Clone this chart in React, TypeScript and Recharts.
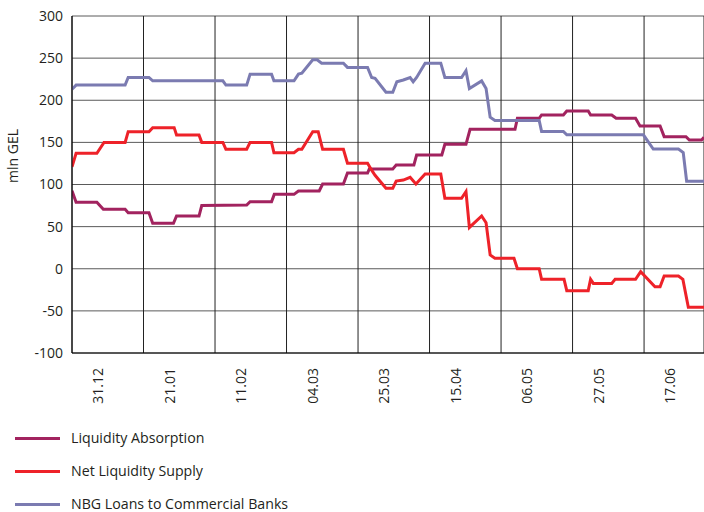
import { LineChart, Line, XAxis, YAxis, CartesianGrid } from 'recharts';

// day offsets from 31.12, values in mln GEL
const absorption: [number, number][] = [
  [0, 92.6], [1.2, 79], [7.3, 79], [9.2, 70.5], [15.6, 70.5], [16.5, 66.5], [22.6, 66.5],
  [23.7, 54], [29.8, 54], [30.7, 62.6], [37.3, 62.6], [38.1, 75], [51.3, 75.6], [52.3, 79.6],
  [58.6, 79.6], [59.4, 88.3], [65.2, 88.3], [66.5, 92.3], [72.6, 92.3], [73.6, 100.6],
  [79.7, 100.6], [80.9, 113.6], [86.8, 113.6], [87.3, 118.4], [94.2, 118.4], [95.2, 123],
  [100.4, 123], [101.2, 135], [108.6, 135], [109.5, 147.7], [115.7, 147.7], [116.9, 165.5],
  [130.1, 165.5], [130.8, 178.6], [137.2, 178.6], [137.9, 182.5], [144.3, 182.5],
  [145.3, 187.3], [151.6, 187.3], [152.3, 182.5], [158.5, 182.5], [159.8, 178.6],
  [165.5, 178.6], [166.8, 169.5], [172.7, 169.5], [173.9, 156.8], [180.3, 156.8],
  [181.3, 152.8], [184.9, 152.8], [185.6, 156],
];

const netSupply: [number, number][] = [
  [0, 121], [1.2, 137], [7.3, 137], [9.4, 150], [15.6, 150], [16.5, 162.7], [22.6, 162.7],
  [23.7, 167.5], [30, 167.5], [30.7, 158.8], [37.3, 158.8], [38.1, 150], [44.3, 150],
  [45.2, 141.8], [51.3, 141.8], [52.3, 150], [58.6, 150], [59.3, 137.8], [65.2, 137.8],
  [66.5, 141.8], [67.5, 141.8], [70.7, 162.7], [72.3, 162.7], [73.6, 141.8], [79.7, 141.8],
  [80.9, 125.2], [86.8, 125.2], [88, 117], [89, 111], [92.2, 95.5], [94.2, 95.5], [95.2, 104],
  [97.3, 105.3], [99.3, 108.5], [101, 100.6], [103.7, 112.5], [108.3, 112.5], [109.5, 83.6],
  [114.4, 83.6], [115.7, 91.5], [116.7, 49], [120.3, 62.6], [121.6, 54.6], [122.8, 16.3],
  [124.2, 12.4], [129.8, 12.4], [130.8, 0], [137.2, 0], [137.9, -12.6], [144.5, -12.6],
  [145.3, -26], [151.6, -26], [152.3, -12.6], [153.1, -17.4], [158.5, -17.4], [159.5, -12.6],
  [165.5, -12.6], [167, -3.5], [171.2, -21.4], [172.7, -21.4], [173.9, -8.7], [178.1, -8.7],
  [179.4, -12.6], [181, -45.8], [185.6, -45.8],
];

const nbgLoans: [number, number][] = [
  [0, 213], [1.2, 218], [15.6, 218], [16.5, 227], [22.6, 227], [23.7, 223], [44.3, 223],
  [45.2, 218], [51.3, 218], [52.3, 231], [58.6, 231], [59.3, 223], [65.2, 223], [66.5, 231],
  [67.5, 232], [70.7, 248], [72, 248], [73.3, 244], [79.7, 244], [80.9, 239], [86.8, 239],
  [88, 227], [89, 226], [92.2, 209.5], [94.2, 209.5], [95.4, 222], [97.3, 224], [99.3, 227],
  [100.2, 222], [101.2, 227], [103.7, 244], [108.3, 244], [109.5, 227], [114.4, 227],
  [115.7, 235], [116.7, 214], [120.3, 223], [121.6, 214], [122.8, 180], [124.2, 176],
  [137.2, 176], [137.9, 163], [144.3, 163], [145.3, 159], [167.8, 159], [170.7, 142],
  [178.1, 142], [179.5, 138], [180.5, 104], [185.6, 104],
];

const xTicks = [0, 21, 42, 63, 84, 105, 126, 147, 168];
const xTickLabels = ['31.12', '21.01', '11.02', '04.03', '25.03', '15.04', '06.05', '27.05', '17.06'];
const yTicks = [-100, -50, 0, 50, 100, 150, 200, 250, 300];

const series = [
  { name: 'Liquidity Absorption', color: '#a2235f', points: absorption },
  { name: 'Net Liquidity Supply', color: '#ee2229', points: netSupply },
  { name: 'NBG Loans to Commercial Banks', color: '#7b7bb1', points: nbgLoans },
];

const FONT = '"Open Sans", "DejaVu Sans", sans-serif';
const TEXT = '#231f20';

const DateTick = (props: any) => {
  const { x, y, index } = props;
  const tx = x + 31;
  const ty = y + 8;
  return (
    <text x={tx} y={ty} transform={`rotate(-90, ${tx}, ${ty})`} textAnchor="end"
      fontSize={14} fill={TEXT} fontFamily={FONT}>
      {xTickLabels[index]}
    </text>
  );
};

const UnitLabel = () => (
  <text x={18} y={156} transform="rotate(-90, 18, 156)" textAnchor="middle"
    fontSize={14} fill={TEXT} fontFamily={FONT}>
    mln GEL
  </text>
);

const App = () => {
  return (
    <div style={{ position: 'absolute', left: 0, top: 0, width: 704, height: 512, background: '#fff', fontFamily: FONT }}>
      <LineChart width={704} height={512} margin={{ top: 16, right: 0, left: 12, bottom: 99 }}>
        <CartesianGrid vertical={false} stroke="#5a5a5a" />
        <CartesianGrid horizontal={false} stroke="#222" />
        <XAxis
          type="number"
          dataKey="d"
          domain={[0, 185.6]}
          ticks={xTicks}
          interval={0}
          height={60}
          tickSize={5}
          tickMargin={2}
          tickLine={false}
          axisLine={{ stroke: '#000' }}
          tick={<DateTick />}
          allowDataOverflow
        />
        <YAxis
          type="number"
          domain={[-100, 300]}
          ticks={yTicks}
          interval={0}
          width={60}
          tickSize={0}
          tickMargin={9}
          tickLine={false}
          axisLine={{ stroke: '#000' }}
          tick={{ fontSize: 14, fill: TEXT, fontFamily: FONT }}
          label={<UnitLabel />}
        />
        {series.map((s) => (
          <Line
            key={s.name}
            data={s.points.map(([d, v]) => ({ d, v }))}
            dataKey="v"
            type="linear"
            stroke={s.color}
            strokeWidth={3}
            dot={false}
            activeDot={false}
            isAnimationActive={false}
          />
        ))}
      </LineChart>
      <div style={{ position: 'absolute', left: 0, top: 421.5 }}>
        {series.map((s) => (
          <div key={s.name} style={{ display: 'flex', alignItems: 'center', height: 33, fontSize: 14.2, color: TEXT }}>
            <div style={{ marginLeft: 15, width: 45, height: 3, background: s.color }} />
            <span style={{ marginLeft: 11, lineHeight: '18px' }}>{s.name}</span>
          </div>
        ))}
      </div>
    </div>
  );
};

export default App;
